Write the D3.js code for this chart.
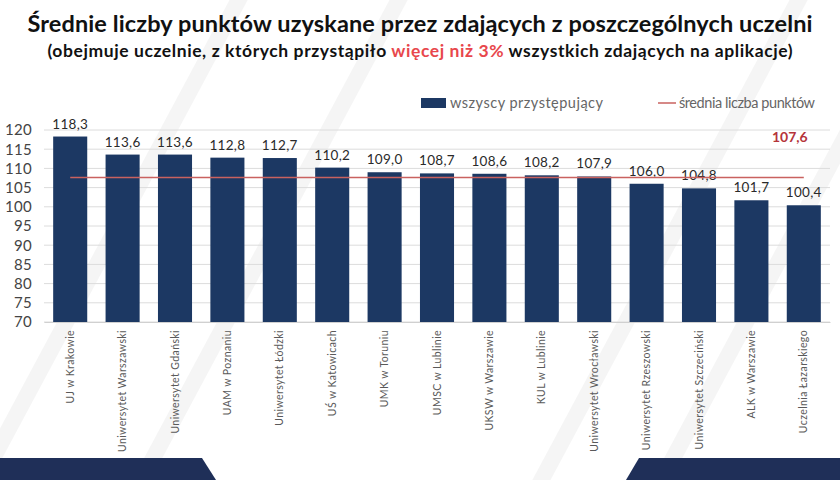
<!DOCTYPE html>
<html lang="pl">

<head>
    <meta charset="UTF-8">
    <title>Średnie liczby punktów</title>

    <script src="https://d3js.org/d3.v7.min.js"></script>

    <style>
        body {
            margin: 0;
            background: #ffffff;
        }

        svg text {
            font-family: "Lato", "Open Sans", sans-serif;
        }

        .title {
            font-weight: bold;
            fill: #111;
        }

        .axis-y text {
            font-size: 15px;
            fill: #444;
            letter-spacing: 0.3px;
        }

        .axis-x text {
            font-size: 10.5px;
            fill: #5a5a5a;
            letter-spacing: 0.4px;
        }

        .value-label {
            font-size: 13.5px;
            fill: #2a2a2a;
            letter-spacing: 0.3px;
        }

        .legend_text {
            font-size: 14.5px;
            fill: #666;
        }
    </style>

</head>

<body>
    <svg width="840" height="480"></svg>

    <script>
        // data
        const universities = [
            "UJ w Krakowie", "Uniwersytet Warszawski", "Uniwersytet Gdański", "UAM w Poznaniu",
            "Uniwersytet Łódzki", "UŚ w Katowicach", "UMK w Toruniu", "UMSC w Lublinie",
            "UKSW w Warszawie", "KUL w Lublinie", "Uniwersytet Wrocławski", "Uniwersytet Rzeszowski",
            "Uniwersytet Szczeciński", "ALK w Warszawie", "Uczelnia Łazarskiego"
        ];
        const avgPoints = [118.3, 113.6, 113.6, 112.8, 112.7, 110.2, 109.0, 108.7, 108.6, 108.2, 107.9, 106.0, 104.8, 101.7, 100.4];
        const meanPoints = 107.6;
        const yTicks = [70, 75, 80, 85, 90, 95, 100, 105, 110, 115, 120];

        const barColor = "#1c3863";
        const lineColor = "#c9625f";
        const fmt = v => v.toFixed(1).replace(".", ",");

        const svg = d3.select("svg");

        // faint diagonal streaks in the background
        const streaks = svg.append("g").attr("class", "streaks");
        [[-40, 520, 260, -40], [120, 520, 420, -40], [520, 520, 820, -40], [640, 520, 940, -40]].forEach(s => {
            streaks.append("line")
                .attr("x1", s[0]).attr("y1", s[1]).attr("x2", s[2]).attr("y2", s[3])
                .attr("stroke", "#f2f2f2").attr("stroke-width", 16).attr("opacity", 0.7);
        });

        // titles
        svg.append("text").attr("class", "title")
            .attr("x", 420).attr("y", 32)
            .attr("text-anchor", "middle")
            .attr("font-size", 23.5)
            .attr("textLength", 785)
            .attr("lengthAdjust", "spacing")
            .text("Średnie liczby punktów uzyskane przez zdających z poszczególnych uczelni");

        const sub = svg.append("text").attr("class", "title")
            .attr("x", 420).attr("y", 57)
            .attr("text-anchor", "middle")
            .attr("font-size", 17.5)
            .attr("textLength", 745)
            .attr("lengthAdjust", "spacing");
        sub.append("tspan").text("(obejmuje uczelnie, z których przystąpiło ");
        sub.append("tspan").attr("fill", "#e8474c").text("więcej niż 3%");
        sub.append("tspan").text(" wszystkich zdających na aplikacje)");

        // scales
        const x = d3.scaleBand()
            .domain(universities)
            .range([44, 830])
            .paddingInner(0.35)
            .paddingOuter(0.175);

        const y = d3.scaleLinear()
            .domain([70, 120])
            .range([322, 130]);

        // gridlines
        svg.append("g")
            .selectAll("line")
            .data(yTicks)
            .enter()
            .append("line")
            .attr("x1", 44).attr("x2", 830)
            .attr("y1", d => y(d)).attr("y2", d => y(d))
            .attr("stroke", "#dcdcdc")
            .attr("stroke-width", 1);

        // y axis
        const yAxis = svg.append("g").attr("class", "axis-y")
            .attr("transform", "translate(32,0)")
            .call(d3.axisLeft(y).tickValues(yTicks).tickSize(0).tickPadding(0));
        yAxis.select(".domain").remove();

        // bars
        svg.append("g")
            .selectAll("rect")
            .data(universities)
            .enter()
            .append("rect")
            .attr("x", d => x(d))
            .attr("width", x.bandwidth())
            .attr("y", (d, i) => y(avgPoints[i]))
            .attr("height", (d, i) => y(70) - y(avgPoints[i]))
            .attr("fill", barColor);

        // value labels
        svg.append("g")
            .selectAll("text")
            .data(universities)
            .enter()
            .append("text")
            .attr("class", "value-label")
            .attr("x", d => x(d) + x.bandwidth() / 2)
            .attr("y", (d, i) => y(avgPoints[i]) - 8)
            .attr("text-anchor", "middle")
            .text((d, i) => fmt(avgPoints[i]));

        // mean line over the bars
        const first = universities[0], last = universities[universities.length - 1];
        svg.append("line")
            .attr("x1", x(first) + x.bandwidth() / 2)
            .attr("x2", x(last) + x.bandwidth() / 2)
            .attr("y1", y(meanPoints)).attr("y2", y(meanPoints))
            .attr("stroke", lineColor)
            .attr("stroke-width", 1.5);

        svg.append("text")
            .attr("x", x(last) + x.bandwidth() / 2 - 14)
            .attr("y", 142)
            .attr("text-anchor", "middle")
            .attr("font-size", 14)
            .attr("font-weight", "bold")
            .attr("fill", "#b5343a")
            .text(fmt(meanPoints));

        // x axis labels, rotated
        const xAxis = svg.append("g").attr("class", "axis-x")
            .attr("transform", "translate(0,322)")
            .call(d3.axisBottom(x).tickSize(0).tickPadding(0));
        xAxis.select(".domain").attr("stroke", "#d0d0d0");
        xAxis.selectAll("text")
            .attr("transform", "rotate(-90)")
            .attr("text-anchor", "end")
            .attr("x", -8)
            .attr("y", 0)
            .attr("dy", "0.35em");

        // legend
        const legend = svg.append("g");
        legend.append("rect")
            .attr("x", 421).attr("y", 98).attr("width", 25).attr("height", 10)
            .attr("fill", barColor);
        legend.append("text").attr("class", "legend_text")
            .attr("x", 450).attr("y", 108)
            .attr("textLength", 153).attr("lengthAdjust", "spacing")
            .text("wszyscy przystępujący");
        legend.append("line")
            .attr("x1", 658).attr("x2", 676).attr("y1", 103).attr("y2", 103)
            .attr("stroke", lineColor).attr("stroke-width", 1.5);
        legend.append("text").attr("class", "legend_text")
            .attr("x", 679).attr("y", 108)
            .attr("textLength", 136).attr("lengthAdjust", "spacing")
            .text("średnia liczba punktów");

        // bottom decorative shapes
        svg.append("polygon")
            .attr("points", "0,458 202,458 216,480 0,480")
            .attr("fill", "#1f2f58");
        svg.append("polygon")
            .attr("points", "639,458 840,458 840,480 626,480")
            .attr("fill", "#1f2f58");
    </script>
</body>

</html>
